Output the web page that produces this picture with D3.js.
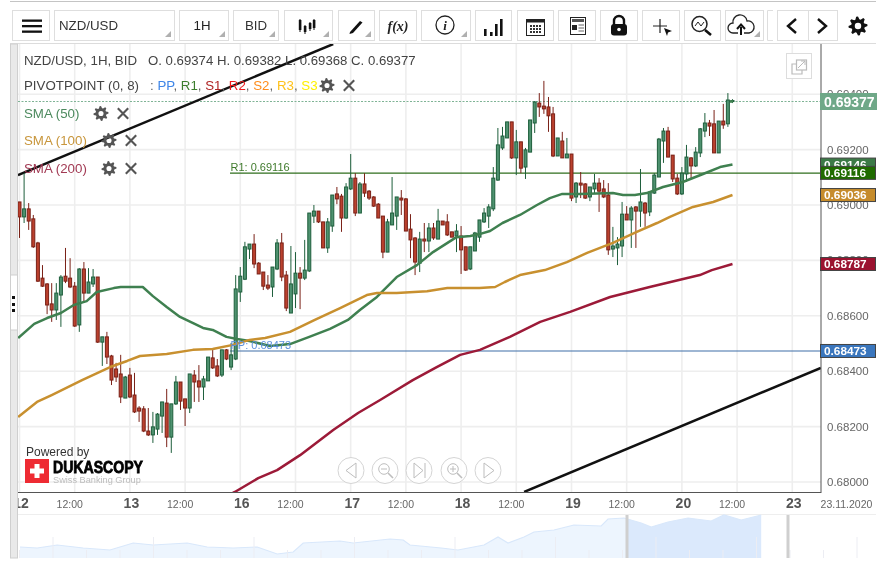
<!DOCTYPE html>
<html><head><meta charset="utf-8">
<script src="https://cdn.jsdelivr.net/npm/d3@7"></script>
<style>html,body{margin:0;padding:0;background:#fff;overflow:hidden}text{font-family:"Liberation Sans",Arial,sans-serif}svg{filter:blur(0.3px)}</style>
</head><body><svg id="c" width="882" height="564"></svg>
<script>
// prices are stored in units of 0.00001
const opens=[69011,68957,68986,68950,68863,68736,68715,68643,68621,68675,
68743,68736,68707,68567,68769,68682,68715,68740,68505,68524,
68455,68408,68390,68303,68386,68314,68267,68264,68184,68170,
68191,68238,68285,68162,68282,68361,68300,68267,68386,68365,
68343,68365,68448,68419,68386,68477,68415,68444,68686,68732,
68841,68859,68790,68758,68711,68704,68769,68863,68747,68610,
68679,68754,68736,68762,68960,68978,68939,68845,68924,69040,
69032,68953,69058,69097,68971,69076,69050,69029,69003,68960,
68830,68928,68960,69025,69022,68913,68881,68790,68877,68870,
68917,68877,68942,68939,68903,68888,68888,68849,68769,68834,
68884,68939,68960,68986,69090,69206,69242,69300,69170,69228,
69137,69191,69296,69368,69357,69354,69329,69177,69231,69170,
69184,69029,69079,69076,69029,69058,69079,69058,69036,68841,
68845,68852,68967,68946,68993,68978,69007,68975,69043,69101,
69231,69267,69180,69097,69040,69112,69170,69141,69188,69267,
69296,69293,69188,69303,69293,69374];
const highs=[69011,69115,69007,68964,68867,68783,68718,68718,68718,68747,
68845,68808,68722,68772,68794,68772,68769,68740,68524,68542,
68459,68430,68459,68383,68412,68394,68274,68274,68267,68253,
68249,68289,68336,68282,68383,68361,68300,68390,68404,68422,
68383,68451,68480,68444,68477,68480,68502,68747,68776,68867,
68859,68895,68794,68758,68747,68776,68877,68899,68762,68852,
68830,68776,68874,68971,69000,68978,68939,68953,69036,69065,
69040,69079,69184,69115,69083,69115,69054,69032,69007,68960,
68950,69101,69029,69054,69025,68967,68884,68903,68935,68935,
68935,68986,68942,68967,68903,68931,68924,68849,68849,68903,
68946,68989,69003,69137,69278,69282,69300,69300,69271,69228,
69206,69307,69375,69404,69448,69390,69354,69242,69264,69242,
69184,69083,69119,69079,69065,69112,69097,69090,69079,68921,
68884,69011,68996,68996,68996,69130,69011,69050,69115,69242,
69278,69282,69180,69112,69137,69217,69173,69209,69278,69332,
69307,69343,69303,69365,69404,69382];
const lows=[68881,68935,68910,68845,68722,68704,68606,68578,68585,68560,
68718,68700,68560,68542,68650,68682,68704,68502,68419,68426,
68350,68361,68285,68303,68303,68249,68217,68180,68166,68141,
68170,68177,68126,68105,68278,68260,68202,68249,68289,68289,
68296,68365,68408,68379,68379,68440,68404,68440,68650,68729,
68805,68772,68751,68693,68693,68668,68765,68725,68617,68610,
68628,68624,68729,68758,68935,68935,68845,68827,68903,69003,
68903,68950,69054,68960,68971,69029,69018,68993,68953,68808,
68830,68928,68910,68964,68906,68808,68747,68758,68830,68830,
68874,68877,68928,68888,68884,68830,68751,68762,68765,68834,
68867,68935,68917,68978,69087,69199,69242,69166,69108,69115,
69094,69191,69260,69318,69329,69264,69173,69177,69170,69170,
69014,69007,69025,69022,69014,69043,68975,69025,68820,68812,
68783,68812,68946,68845,68845,68921,68921,68960,69040,69101,
69152,69173,69083,69036,69036,69083,69094,69137,69173,69245,
69249,69188,69188,69275,69282,69368];
const closes=[68957,68986,68942,68849,68725,68707,68639,68621,68682,68740,
68725,68704,68563,68769,68682,68722,68740,68505,68524,68451,
68368,68379,68307,68379,68307,68253,68256,68184,68170,68199,
68245,68289,68162,68282,68361,68292,68267,68390,68361,68343,
68372,68451,68412,68383,68477,68444,68459,68697,68743,68849,
68859,68787,68751,68707,68700,68776,68863,68740,68628,68715,
68754,68736,68765,68971,68978,68939,68845,68939,69036,69022,
68953,69065,69097,68971,69076,69043,69025,68996,68953,68830,
68939,68971,69029,69018,68906,68874,68794,68877,68870,68917,
68881,68942,68928,68892,68884,68906,68838,68765,68849,68899,
68946,68971,68993,69097,69217,69249,69300,69170,69228,69133,
69199,69307,69372,69354,69347,69322,69177,69242,69170,69184,
69025,69079,69072,69025,69065,69079,69050,69029,68838,68852,
68859,68967,68946,68989,68978,69011,68971,69047,69108,69238,
69267,69173,69094,69040,69115,69173,69141,69191,69275,69296,
69285,69188,69303,69289,69379,69377];

const sma50Bars=[-0.3,3.2,6,9,11.8,14.6,16.8,20.5,22,26.8,29,32,34.9,39.9,42,45,47.3,50,54.5,58.8,63,67.5,71.4,74,77.7,82,86.4,89.9,95,98,100,102.3,105,108.8,112.5,115.3,118,121.8,129,131.2,133.8,136.4,139.9,144.2,148.6,152.3,155];
const sma50Values=[68520,68571,68592,68610,68639,68653,68686,68700,68704,68704,68671,68632,68596,68556,68549,68524,68516,68509,68491,68498,68524,68553,68585,68621,68668,68740,68783,68830,68884,68888,68895,68906,68935,68964,69000,69025,69040,69040,69043,69036,69036,69043,69065,69083,69112,69137,69146];
const sma100Bars=[-0.3,3.8,7,13.6,19.7,23.4,26.2,32,37.7,42,46.4,50,53.4,58.8,64.2,69.7,75.5,77.7,82,88.6,93,100,103.4,105.5,108.8,114.2,119,123.4,129,134.2,138.6,141.4,146.4,150.8,155];
const sma100Values=[68235,68289,68314,68368,68415,68437,68455,68462,68477,68480,68495,68513,68520,68542,68585,68628,68675,68682,68682,68689,68700,68700,68704,68722,68747,68765,68794,68827,68863,68903,68935,68957,68993,69011,69036];
const sma200Bars=[44.7,46.8,51.9,56,61,68.2,73.6,78.4,85.5,90.7,95.8,100.1,106.6,113.2,119.7,128.4,137,147.9,150.5,155];
const sma200Values=[67946,67964,68014,68043,68097,68188,68249,68296,68368,68415,68459,68477,68524,68578,68614,68668,68704,68747,68765,68787];
const trendBars=[[-0.33,68.2],[109.7,174.2]];
const trendPrices=[[69108,69581],[67964,68412]];

const gridPrices=[68000,68200,68400,68600,68800,69000,69200,69400];
const dayBars=[0,24,48,72,96,120,144,168];
const dayLabels=["12","13","16","17","18","19","20","23"];
const noonBars=[12,36,60,84,108,132,156];
const noonLabel="12:00";
const pivotPP=68473, pivotR1=69116, last=69377;
const navHours=[0.5,4.8,9.8,16.3,23,28.8,33.8,42.3,47.3,53.8,59.8,64.8,68.8,71.3,80.5,83.8,93,96.3,98,105.8,110,116.5,120,122.5,126.5,129,134,139,145.8,147.5,151.5,155.8,158.3,162.5,167.5,173.3,176.5,180.8,185.8];
const navLevels=[11,10,13,10,8,15,13,15,11,10,11,4,6,15,17,15,19,18,13,10,8,13,21,15,21,26,28,33,32,39,40,35,31,36,40,37,43,38,43];

const X=d3.scaleLinear().domain([0,174.2]).range([19.5,820.8]);
const Y=d3.scaleLinear().domain([68000,69400]).range([482,94.2]);
const svg=d3.select("#c");
const fmt=d=>(d/1e5).toFixed(5);
const defs=svg.append("defs");
defs.append("clipPath").attr("id","plot").append("rect").attr("x",18).attr("y",44).attr("width",803).attr("height",448);
defs.append("clipPath").attr("id","lab").append("rect").attr("x",18).attr("y",493).attr("width",864).attr("height",22);

// frame
svg.append("line").attr("x1",10).attr("x2",876).attr("y1",1.5).attr("y2",1.5).attr("stroke","#c4c4c4").attr("stroke-width",1);
svg.append("line").attr("x1",10).attr("x2",876).attr("y1",43.5).attr("y2",43.5).attr("stroke","#dcdcdc");
svg.append("rect").attr("x",10.5).attr("y",44).attr("width",7).attr("height",514).attr("fill","#e9e9e9").attr("stroke","#cfcfcf");
svg.append("rect").attr("x",10.5).attr("y",275).attr("width",7).attr("height",55).attr("fill","#fff").attr("stroke","#cfcfcf");
svg.selectAll(".hd").data([297,304,310]).join("rect").attr("x",12).attr("y",d=>d-1).attr("width",3).attr("height",3).attr("fill","#111");

// grid
const plot=svg.append("g");
plot.selectAll(".gh").data(gridPrices).join("line").attr("x1",18).attr("x2",821).attr("y1",d=>Y(d)).attr("y2",d=>Y(d)).attr("stroke","#eeeeee").attr("stroke-width",1.6);
plot.selectAll(".gv").data(d3.merge([dayBars,noonBars])).join("line").attr("x1",d=>X(d)).attr("x2",d=>X(d)).attr("y1",44).attr("y2",492).attr("stroke","#eeeeee").attr("stroke-width",1.6);

const clip=svg.append("g").attr("clip-path","url(#plot)");
// pivots
clip.append("line").attr("x1",230).attr("x2",821).attr("y1",Y(pivotR1)+.3).attr("y2",Y(pivotR1)+.3).attr("stroke","#2f6e1c").attr("stroke-width",1.4);
clip.append("line").attr("x1",230).attr("x2",821).attr("y1",Y(pivotPP)).attr("y2",Y(pivotPP)).attr("stroke","#3f6ea8").attr("stroke-width",1.1);
clip.append("line").attr("x1",18).attr("x2",821).attr("y1",Y(last)+1).attr("y2",Y(last)+1).attr("stroke","#7fb395").attr("stroke-dasharray","2 1.5").attr("stroke-width",1.1);
// trend lines
trendBars.forEach((b,i)=>clip.append("line").attr("x1",X(b[0])).attr("x2",X(b[1])).attr("y1",Y(trendPrices[i][0])).attr("y2",Y(trendPrices[i][1])).attr("stroke","#111").attr("stroke-width",2.5));

// candles
const cs=opens.map((o,i)=>({i,o,h:highs[i],l:lows[i],c:closes[i]}));
const col=d=>d.c>=d.o?{s:"#1e5f3c",f:"#4f9270"}:{s:"#7a2117",f:"#bb412e"};
const cg=clip.selectAll(".cd").data(cs).join("g");
cg.append("line").attr("x1",d=>X(d.i)).attr("x2",d=>X(d.i)).attr("y1",d=>Y(d.h)).attr("y2",d=>Y(d.l)).attr("stroke",d=>col(d).s).attr("stroke-width",1);
cg.append("rect").attr("x",d=>X(d.i)-1.5).attr("width",3).attr("y",d=>Y(Math.max(d.o,d.c))).attr("height",d=>Math.max(1,Math.abs(Y(d.o)-Y(d.c)))).attr("fill",d=>col(d).f).attr("stroke",d=>col(d).s).attr("stroke-width",1);

// SMA
const ln=d3.line().x(d=>X(d[0])).y(d=>Y(d[1]));
[[sma50Bars,sma50Values,"#3f8050"],[sma100Bars,sma100Values,"#c8902f"],[sma200Bars,sma200Values,"#9c1a38"]].forEach(([b,v,c])=>{
  clip.append("path").attr("d",ln(b.map((x,i)=>[x,v[i]]))).attr("fill","none").attr("stroke",c).attr("stroke-width",2.5).attr("stroke-linejoin","round");
});

// axis frame
svg.append("line").attr("x1",821).attr("x2",821).attr("y1",44).attr("y2",493).attr("stroke","#555").attr("stroke-width",1);
svg.append("line").attr("x1",18).attr("x2",821).attr("y1",492.5).attr("y2",492.5).attr("stroke","#555").attr("stroke-width",1);
svg.append("line").attr("x1",18).attr("x2",876).attr("y1",514.5).attr("y2",514.5).attr("stroke","#eeeeee");

// y labels
svg.selectAll(".yl").data(gridPrices).join("text").attr("x",827).attr("y",d=>Y(d)+4).attr("font-size",11.5).attr("fill","#666").text(fmt);

// x labels
const xl=svg.append("g").attr("clip-path","url(#lab)");
xl.selectAll(".dl").data(dayBars).join("text").attr("x",d=>X(d)+1.5).attr("y",508).attr("text-anchor","middle").attr("font-size",14).attr("font-weight","bold").attr("fill","#555").text((d,i)=>dayLabels[i]);
xl.selectAll(".nl").data(noonBars).join("text").attr("x",d=>X(d)-5).attr("y",508).attr("text-anchor","middle").attr("font-size",10.5).attr("fill","#666").text(noonLabel);
svg.append("text").attr("x",846.5).attr("y",508).attr("text-anchor","middle").attr("font-size",10.5).attr("fill","#666").text("23.11.2020");

// price tags
const tags=[[69146,"#3c7a47",-6.5,13],[69036,"#c68c2c",-6.5,13],[68787,"#9b1330",-6.5,13],[68473,"#3a76bd",-6.5,13],[69116,"#1f6b00",-6.5,13]];
tags.forEach(([v,c,o,h])=>{
  const y=Y(v);
  svg.append("rect").attr("x",820.5).attr("y",y+o).attr("width",55).attr("height",h).attr("fill",c).attr("stroke","#444").attr("stroke-width",1);
  svg.append("text").attr("x",824).attr("y",y+4).attr("font-size",11.8).attr("font-weight","bold").attr("fill","#fff").text(fmt(v));
});
svg.append("rect").attr("x",820).attr("y",93).attr("width",57).attr("height",17).attr("fill","#6fa888");
svg.append("text").attr("x",824).attr("y",106.5).attr("font-size",14).attr("font-weight","bold").attr("fill","#fff").text(fmt(last));
svg.append("rect").attr("x",730).attr("y",Y(last)-.4).attr("width",3).attr("height",2.6).attr("fill","#3f8050");

// pivot labels
svg.append("text").attr("x",230.5).attr("y",171).attr("font-size",11).attr("fill","#3f7a2c").text("R1: "+fmt(pivotR1));
svg.append("text").attr("x",230.5).attr("y",349).attr("font-size",11).attr("fill","#5c8fdc").text("PP: "+fmt(pivotPP));

// legend
const lg=svg.append("g").attr("font-size",13.3);
lg.append("text").attr("x",24).attr("y",65).attr("fill","#444").text("NZD/USD, 1H, BID");
lg.append("text").attr("x",148).attr("y",65).attr("fill","#444").attr("font-size",13.2).text("O. 0.69374 H. 0.69382 L. 0.69368 C. 0.69377");
lg.append("text").attr("x",24).attr("y",90).attr("fill","#444").text("PIVOTPOINT (0, 8)");
const piv=lg.append("text").attr("x",150).attr("y",90);
[[": ","#666"],["PP","#3f86e8"],[", ","#666"],["R1","#3b7d2d"],[", ","#666"],["S1","#b02424"],[", ","#666"],["R2","#ee1c1c"],[", ","#666"],["S2","#ff8c1a"],[", ","#666"],["R3","#ffc21a"],[", ","#666"],["S3","#fff000"]].forEach(([t,c])=>piv.append("tspan").attr("fill",c).text(t));
[["SMA (50)",118,"#4c8a5e",101,123],["SMA (100)",145,"#c8963c",109,131],["SMA (200)",173,"#a23a54",109,131]].forEach(([t,y,c,g,x])=>{
  lg.append("text").attr("x",24).attr("y",y).attr("fill",c).text(t);
  gear(g,y-4.5,7.5,"#555"); cross(x,y-4.5);
});
gear(327,85.5,7.5,"#555"); cross(349,85.5);

function gear(cx,cy,r,c){
  const p=d3.path(),n=8;
  for(let i=0;i<n*4;i++){
    const a=(i/(n*4))*2*Math.PI-Math.PI/8/2, R=(i%4==0||i%4==1)?r:r*.72;
    const x=cx+R*Math.cos(a),y=cy+R*Math.sin(a);
    i?p.lineTo(x,y):p.moveTo(x,y);
  }
  p.closePath();p.moveTo(cx+r*.34,cy);p.arc(cx,cy,r*.34,0,2*Math.PI);
  svg.append("path").attr("d",p.toString()).attr("fill",c).attr("fill-rule","evenodd");
}
function cross(x,y){
  const r=5.2;
  svg.append("path").attr("d",`M${x-r},${y-r}L${x+r},${y+r}M${x+r},${y-r}L${x-r},${y+r}`).attr("stroke","#555").attr("stroke-width",2.1);
}

// toolbar
const boxes=[[12,49],[54,174,1],[179,228,1],[233,278,1],[284,332,1],[338,374,1],[379,416],[421,470,1],[475,511],[517,553],[558,595],[600,637],[642,679],[684,720],[725,763,1],[777,808],[808,837]];
boxes.forEach(([a,b,t])=>{
  svg.append("rect").attr("x",a+.5).attr("y",10.5).attr("width",b-a).attr("height",30).attr("fill","#fff").attr("stroke","#dedede");
  if(t) svg.append("path").attr("d",`M${b-3},31L${b-3},37L${b-9},37Z`).attr("fill","#b0b0b0");
});
svg.append("path").attr("d","M767.5,10.5H773M767.5,10.5V40.5H773").attr("fill","none").attr("stroke","#dedede");
[20.5,26,31.5].forEach(y=>svg.append("rect").attr("x",22).attr("y",y-1).attr("width",20).attr("height",2.3).attr("fill","#111"));
svg.append("text").attr("x",59).attr("y",30).attr("font-size",13.3).attr("fill","#333").text("NZD/USD");
svg.append("text").attr("x",202).attr("y",30).attr("text-anchor","middle").attr("font-size",13.3).attr("fill","#222").text("1H");
svg.append("text").attr("x",256).attr("y",30).attr("text-anchor","middle").attr("font-size",13.3).attr("fill","#333").text("BID");
// candle icon
[[300,20,30],[305,26,32],[310,23,29],[314,20,28]].forEach(([x,a,b])=>{
  svg.append("line").attr("x1",x).attr("x2",x).attr("y1",a-1).attr("y2",b+2).attr("stroke","#111");
  svg.append("rect").attr("x",x-1.2).attr("y",a).attr("width",2.6).attr("height",b-a).attr("fill","#111");
});
svg.append("path").attr("d","M350,32L360,21L362.5,22.5L353,33L349.5,34Z").attr("fill","#111");
svg.append("text").attr("x",398).attr("y",31).attr("text-anchor","middle").attr("font-style","italic").attr("font-weight","bold").attr("font-size",14).attr("fill","#222").style("font-family","'Liberation Serif'").text("f(x)");
svg.append("circle").attr("cx",445).attr("cy",25).attr("r",9).attr("fill","none").attr("stroke","#222").attr("stroke-width",1.3);
svg.append("text").attr("x",445).attr("y",30).attr("text-anchor","middle").attr("font-style","italic").attr("font-weight","bold").attr("font-size",13).attr("fill","#222").style("font-family","'Liberation Serif'").text("i");
[[485,29],[491,32],[496,24],[501,19]].forEach(([x,y])=>svg.append("rect").attr("x",x-1).attr("y",y).attr("width",2.6).attr("height",36-y).attr("fill","#111"));
svg.append("rect").attr("x",526.5).attr("y",19.5).attr("width",18).attr("height",16).attr("fill","none").attr("stroke","#222");
svg.append("rect").attr("x",526.5).attr("y",19.5).attr("width",18).attr("height",3).attr("fill","#222");
for(let i=0;i<3;i++)for(let j=0;j<4;j++)svg.append("rect").attr("x",530+j*3).attr("y",25+i*3).attr("width",2).attr("height",2).attr("fill","#333");
svg.append("rect").attr("x",570.5).attr("y",17.5).attr("width",15).attr("height",17).attr("fill","none").attr("stroke","#222");
svg.append("rect").attr("x",572).attr("y",19).attr("width",12).attr("height",3).attr("fill","#555");
svg.append("rect").attr("x",572).attr("y",25).attr("width",5).attr("height",5).attr("fill","#222");
[25,28,31].forEach(y=>svg.append("line").attr("x1",578.5).attr("x2",584).attr("y1",y).attr("y2",y).attr("stroke","#666"));
svg.append("path").attr("d","M614,25V21a5,5 0 0 1 10,0V25").attr("fill","none").attr("stroke","#111").attr("stroke-width",2.4);
svg.append("rect").attr("x",611).attr("y",24).attr("width",16).attr("height",11.5).attr("rx",3).attr("fill","#111");
svg.append("circle").attr("cx",619).attr("cy",29.5).attr("r",1.8).attr("fill","#fff");
svg.append("path").attr("d","M660,19V33M653,26H667").attr("stroke","#222").attr("stroke-width",1.2);
svg.append("path").attr("d","M664,28L672,31L668,32.5L667,36Z").attr("fill","#111");
svg.append("circle").attr("cx",699.5).attr("cy",24).attr("r",7.5).attr("fill","none").attr("stroke","#222").attr("stroke-width",1.5);
svg.append("path").attr("d","M705,30L711,35").attr("stroke","#111").attr("stroke-width",2.6);
svg.append("path").attr("d","M695,26L698,22L701,26L704,22").attr("fill","none").attr("stroke","#222");
svg.append("path").attr("d","M738,33H733a5,5 0 0 1 0,-10a7,7 0 0 1 14,-2a6,6 0 0 1 2,12H744").attr("fill","none").attr("stroke","#222").attr("stroke-width",1.3);
svg.append("path").attr("d","M741,35V27M737,29L741,24.5L745,29").attr("fill","none").attr("stroke","#111").attr("stroke-width",2);
svg.append("path").attr("d","M796,19L788,26L796,33").attr("fill","none").attr("stroke","#111").attr("stroke-width",2.4);
svg.append("path").attr("d","M818,19L826,26L818,33").attr("fill","none").attr("stroke","#111").attr("stroke-width",2.4);
gear(858,26,9.5,"#111");

// popout
svg.append("rect").attr("x",786.5).attr("y",53.5).attr("width",25).attr("height",25).attr("fill","#fff").attr("stroke","#ddd");
svg.append("path").attr("d","M796,64H792V74H802V70").attr("fill","none").attr("stroke","#bbb").attr("stroke-width",1.2);
svg.append("rect").attr("x",796.5).attr("y",60).attr("width",10).attr("height",10).attr("fill","none").attr("stroke","#bbb").attr("stroke-width",1.2);
svg.append("path").attr("d","M798,68L805,61M801,61H805V65").attr("fill","none").attr("stroke","#bbb");

// logo
svg.append("text").attr("x",26).attr("y",456).attr("font-size",12).attr("fill","#333").text("Powered by");
svg.append("rect").attr("x",25).attr("y",459).attr("width",24).attr("height",24).attr("fill","#ee2b33");
svg.append("path").attr("d","M34.5,464H39.5V468.5H44V473.5H39.5V478H34.5V473.5H30V468.5H34.5Z").attr("fill","#fff");
svg.append("text").attr("x",53).attr("y",473).attr("font-size",16).attr("font-weight","bold").attr("stroke","#000").attr("stroke-width",.8).attr("fill","#000").attr("textLength",90).attr("lengthAdjust","spacingAndGlyphs").text("DUKASCOPY");
svg.append("text").attr("x",53).attr("y",483).attr("font-size",9.2).attr("fill","#bdbdbd").text("Swiss Banking Group");

// nav buttons
const nb=[351,385,419,454,488];
nb.forEach(x=>svg.append("circle").attr("cx",x).attr("cy",470.5).attr("r",13).attr("fill","#fff").attr("fill-opacity",.85).attr("stroke","#d4d4d4"));
const ic="#bdbdbd";
svg.append("path").attr("d","M356,463V478L346,470.5Z").attr("fill","none").attr("stroke",ic);
[385,454].forEach((x,i)=>{
  svg.append("circle").attr("cx",x-1).attr("cy",469).attr("r",5.3).attr("fill","none").attr("stroke",ic);
  svg.append("path").attr("d",`M${x+3},473L${x+8},478`).attr("stroke",ic).attr("stroke-width",1.6);
  svg.append("path").attr("d",i?`M${x-4},469H${x+2}M${x-1},466V472`:`M${x-4},469H${x+2}`).attr("stroke",ic);
});
svg.append("path").attr("d","M414,463V478L423,470.5ZM425,463V478").attr("fill","none").attr("stroke",ic);
svg.append("path").attr("d","M484,463V478L494,470.5Z").attr("fill","none").attr("stroke",ic);

// navigator
const NX=d3.scaleLinear().domain([0,215]).range([18,878]);
const NY=d3.scaleLinear().domain([0,43]).range([558,515]);
const navPts=navHours.map((h,i)=>[h,navLevels[i]]);
const ar=d3.area().x(d=>NX(d[0])).y0(558).y1(d=>NY(d[1]));
const splitH=152.25;
defs.append("clipPath").attr("id","navL").append("rect").attr("x",18).attr("y",510).attr("width",NX(splitH)-18).attr("height",50);
defs.append("clipPath").attr("id","navR").append("rect").attr("x",NX(splitH)).attr("y",510).attr("width",300).attr("height",50);
svg.append("path").attr("d",ar(navPts)).attr("fill","#edf5fe").attr("clip-path","url(#navL)");
svg.append("path").attr("d",ar(navPts)).attr("fill","#dbe9fc").attr("clip-path","url(#navR)");
svg.append("path").attr("d",d3.line().x(d=>NX(d[0])).y(d=>NY(d[1]))(navPts)).attr("fill","none").attr("stroke","#d9e8fb").attr("stroke-width",1.2);
const navTicks=d3.range(0,26);
svg.selectAll(".nt").data(navTicks).join("line").attr("x1",d=>19.5+33.5*d).attr("x2",d=>19.5+33.5*d).attr("y1",d=>d%3==1?537:550).attr("y2",558).attr("stroke","#ecedf3").attr("stroke-width",1);
[[627],[788]].forEach(([x])=>svg.append("rect").attr("x",x-1.5).attr("y",515).attr("width",3).attr("height",43).attr("fill","#cfcfcf"));
</script></body></html>
